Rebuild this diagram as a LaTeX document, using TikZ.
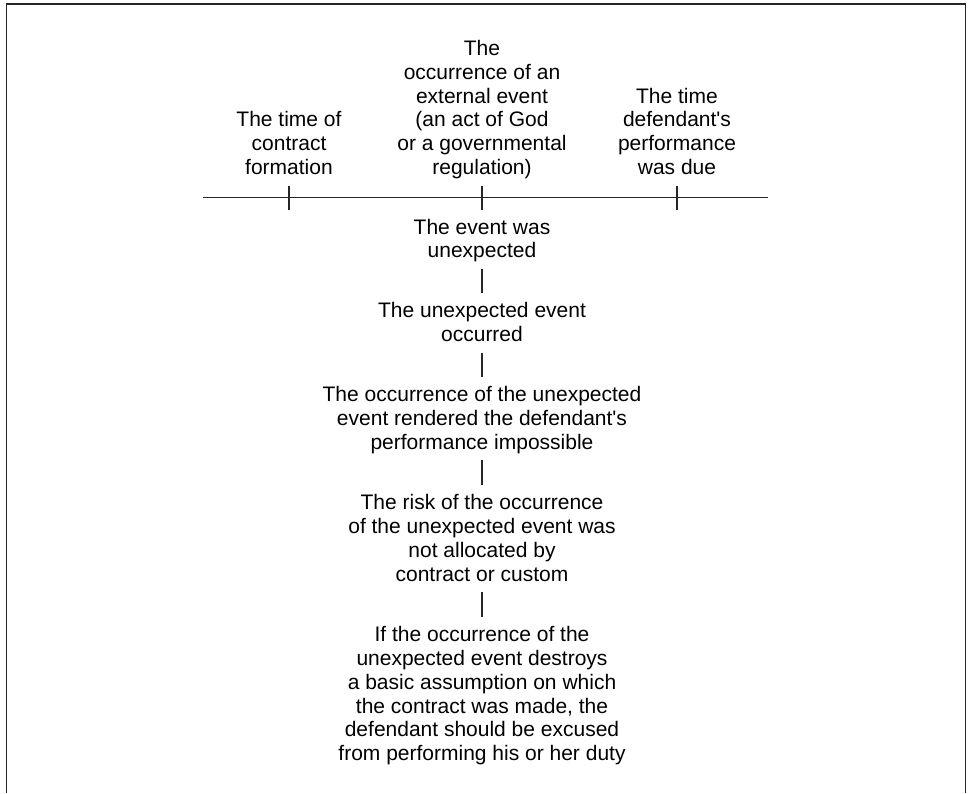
\documentclass[tikz,border=0pt]{standalone}
\usepackage{fontspec}
\setmainfont{Liberation Sans}
\begin{document}
\begin{tikzpicture}[x=1pt,y=-1pt,
  txt/.style={inner sep=0pt, align=center, font=\fontsize{21}{23.8}\selectfont, text=black, anchor=north},
  rule/.style={draw=black!85, line width=1.2pt},
  conn/.style={rule, shorten >=9.5pt}]
\useasboundingbox (0,0) rectangle (969,793);
% frame (open at the bottom)
\draw[line width=1.6pt, black!85] (6.5,793) -- (6.5,4) -- (965.3,4) -- (965.3,793);
% timeline
\coordinate (tlA) at (203,197.7);
\coordinate (tlB) at (768,197.7);
\coordinate (t1) at (289,197.7);
\coordinate (t2) at (482,197.7);
\coordinate (t3) at (677,197.7);
\draw[rule] (tlA) -- (tlB);
\foreach \t in {t1,t2,t3} \draw[rule] ([yshift=12pt]\t) -- ([yshift=-12pt]\t);
% top labels
\node[txt] (formation) at (289,111.1) {The time of\\contract\\formation};
\node[txt] (external) at (482,40.0) {The\\occurrence of an\\external event\\(an act of God\\or a governmental\\regulation)};
\node[txt] (due) at (677,87.6) {The time\\defendant\textquotesingle s\\performance\\was due};
% chain
\node[txt] (n1) at (482,218.7) {The event was\\unexpected};
\node[txt] (n2) at (482,302.4) {The unexpected event\\occurred};
\node[txt] (n3) at (482,386.1) {The occurrence of the unexpected\\event rendered the defendant\textquotesingle s\\performance impossible};
\node[txt] (n4) at (482,494.3) {The risk of the occurrence\\of the unexpected event was\\not allocated by\\contract or custom};
\node[txt] (n5) at (482,626.3) {If the occurrence of the\\unexpected event destroys\\a basic assumption on which\\the contract was made, the\\defendant should be excused\\from performing his or her duty};
\draw[conn, shorten <=6.6pt] (n1) -- (n2);
\draw[conn, shorten <=10.7pt] (n2) -- (n3);
\draw[conn, shorten <=6.6pt] (n3) -- (n4);
\draw[conn, shorten <=10.7pt] (n4) -- (n5);
\end{tikzpicture}
\end{document}
